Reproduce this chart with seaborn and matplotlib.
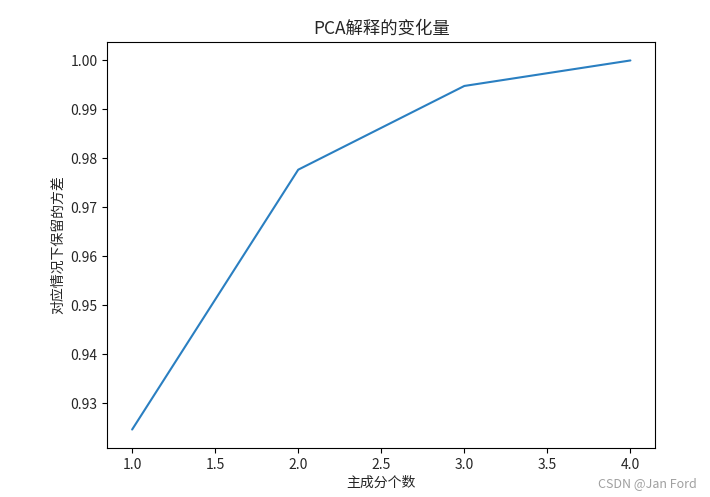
import matplotlib
matplotlib.use("Agg")
import matplotlib.pyplot as plt
import seaborn as sns
import pandas as pd

n_components = [1, 2, 3, 4]
cum_variance = [0.92462, 0.97769, 0.99479, 1.00000]
title = "PCA解释的变化量"
xlabel = "主成分个数"
ylabel = "对应情况下保留的方差"

sns.set_style("ticks")
plt.rcParams['font.family'] = ['Noto Sans CJK SC', 'DejaVu Sans']
plt.rcParams['axes.unicode_minus'] = False

df = pd.DataFrame({"n": n_components, "v": cum_variance})

fig = plt.figure(figsize=(7.1, 4.97), dpi=100)
ax = fig.add_axes([0.151, 0.0986, 0.772, 0.8169])
sns.lineplot(data=df, x="n", y="v", ax=ax, color="#2a7fc1", linewidth=1.5)

for s in ax.spines.values():
    s.set_visible(True)
    s.set_color("black")
    s.set_linewidth(0.8)
ax.tick_params(axis="both", labelsize=10, direction="out", length=3.5, width=0.8, color="black")
ax.set_xticks([1.0, 1.5, 2.0, 2.5, 3.0, 3.5, 4.0])
ax.set_yticks([0.93, 0.94, 0.95, 0.96, 0.97, 0.98, 0.99, 1.00])
ax.set_yticklabels([f"{v:.2f}" for v in [0.93, 0.94, 0.95, 0.96, 0.97, 0.98, 0.99, 1.00]])
ax.set_xticklabels([f"{v:.1f}" for v in [1.0, 1.5, 2.0, 2.5, 3.0, 3.5, 4.0]])
ax.set_title(title, fontsize=12.5, fontweight="medium")
ax.set_xlabel(xlabel, fontsize=10, labelpad=3)
ax.set_ylabel(ylabel, fontsize=10, labelpad=4)

fig.text(0.982, 0.015, "CSDN @Jan Ford", ha="right", va="bottom", fontsize=9, color="#a0a0a0")

fig.savefig("out.png", dpi=100, facecolor="white")
